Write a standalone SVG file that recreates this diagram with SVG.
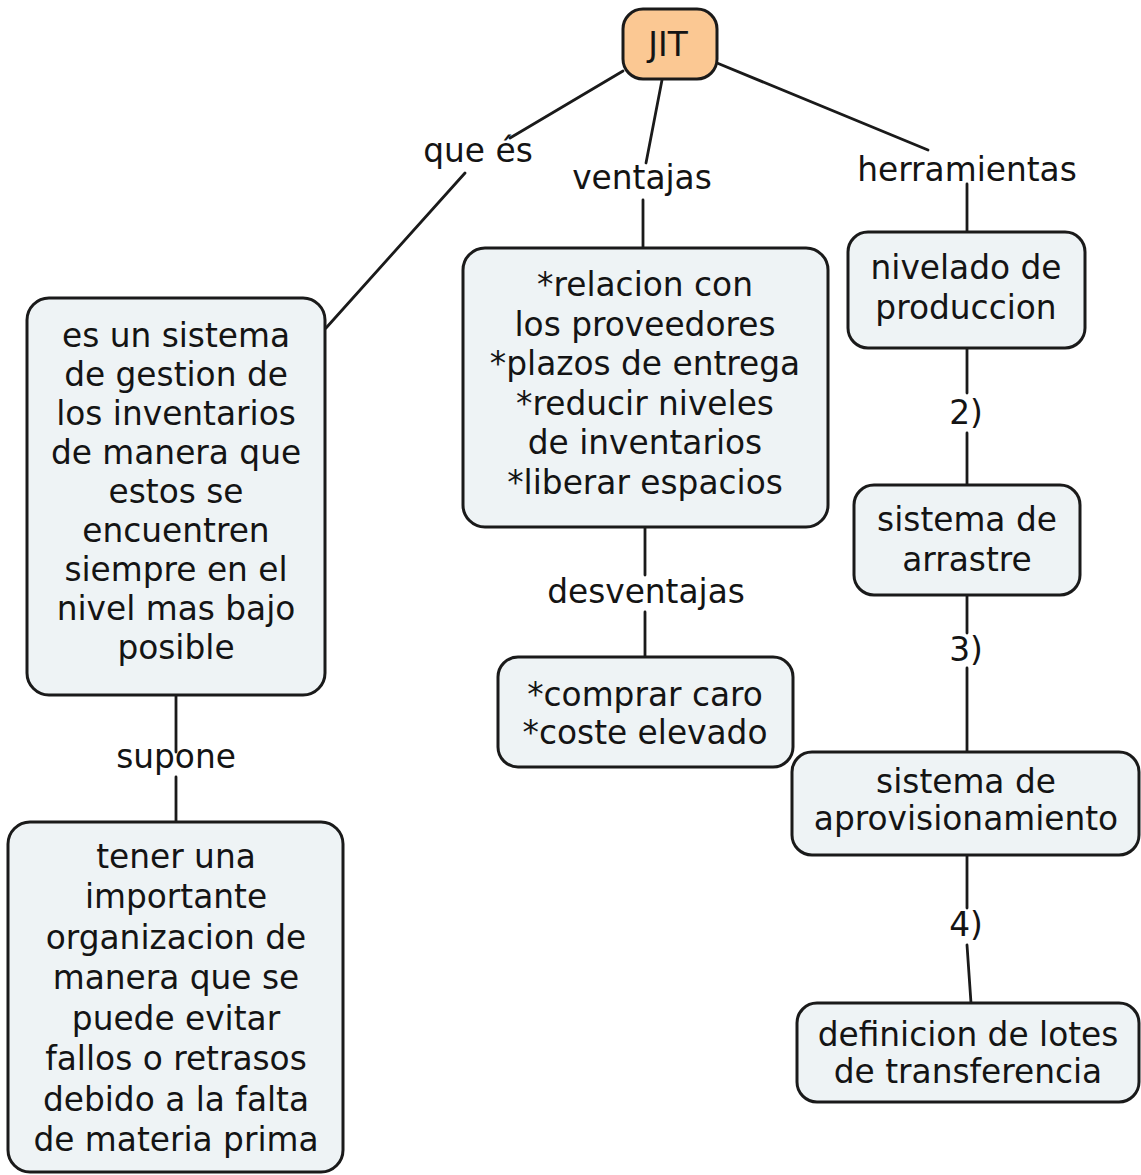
<svg xmlns="http://www.w3.org/2000/svg" width="1141" height="1175" viewBox="0 0 1141 1175">
<style>
.node rect{fill:#eef3f5;stroke:#1a1a1a;stroke-width:3}
#jit rect{fill:#fbc893}
text{font-family:"DejaVu Sans","Verdana",sans-serif;font-size:32.8px;fill:#141414;text-anchor:middle}
.conn line{stroke:#1a1a1a;stroke-width:2.8;stroke-linecap:round}
</style>
<rect x="0" y="0" width="1141" height="1175" fill="#ffffff"/>
<g id="connectors" class="conn">
<line x1="623" y1="71" x2="510" y2="138"/>
<line x1="465" y1="173" x2="326" y2="328"/>
<line x1="662" y1="80" x2="646" y2="163"/>
<line x1="643" y1="200" x2="643" y2="248"/>
<line x1="717" y1="63" x2="928" y2="150"/>
<line x1="967" y1="184" x2="967" y2="232"/>
<line x1="967" y1="348" x2="967" y2="393"/>
<line x1="967" y1="433" x2="967" y2="485"/>
<line x1="967" y1="595" x2="967" y2="633"/>
<line x1="967" y1="668" x2="967" y2="752"/>
<line x1="967" y1="855" x2="967" y2="908"/>
<line x1="967" y1="945" x2="971" y2="1003"/>
<line x1="176" y1="695" x2="176" y2="752"/>
<line x1="176" y1="777" x2="176" y2="822"/>
<line x1="645" y1="527" x2="645" y2="575"/>
<line x1="645" y1="612" x2="645" y2="657"/>
</g>
<g id="labels">
<text x="478" y="162">que és</text>
<text x="642" y="189">ventajas</text>
<text x="967" y="181">herramientas</text>
<text x="966" y="424">2)</text>
<text x="966" y="661">3)</text>
<text x="966" y="936">4)</text>
<text x="176" y="768">supone</text>
<text x="646" y="603">desventajas</text>
</g>
<g id="jit" class="node">
<rect x="623" y="9" width="94" height="70" rx="20"/>
<text x="668" y="56">JIT</text>
</g>
<g id="que-es" class="node">
<rect x="27" y="298" width="298" height="397" rx="22"/>
<text x="176" y="347">es un sistema</text>
<text x="176" y="386">de gestion de</text>
<text x="176" y="425">los inventarios</text>
<text x="176" y="464">de manera que</text>
<text x="176" y="503">estos se</text>
<text x="176" y="542">encuentren</text>
<text x="176" y="581">siempre en el</text>
<text x="176" y="620">nivel mas bajo</text>
<text x="176" y="659">posible</text>
</g>
<g id="ventajas" class="node">
<rect x="463" y="248" width="365" height="279" rx="22"/>
<text x="645" y="296">*relacion con</text>
<text x="645" y="336">los proveedores</text>
<text x="645" y="375">*plazos de entrega</text>
<text x="645" y="415">*reducir niveles</text>
<text x="645" y="454">de inventarios</text>
<text x="645" y="494">*liberar espacios</text>
</g>
<g id="desventajas" class="node">
<rect x="498" y="657" width="295" height="110" rx="20"/>
<text x="645" y="706">*comprar caro</text>
<text x="645" y="744">*coste elevado</text>
</g>
<g id="nivelado" class="node">
<rect x="848" y="232" width="237" height="116" rx="20"/>
<text x="966" y="279">nivelado de</text>
<text x="966" y="319">produccion</text>
</g>
<g id="arrastre" class="node">
<rect x="854" y="485" width="226" height="110" rx="20"/>
<text x="967" y="531">sistema de</text>
<text x="967" y="571">arrastre</text>
</g>
<g id="aprovisionamiento" class="node">
<rect x="792" y="752" width="347" height="103" rx="20"/>
<text x="966" y="793">sistema de</text>
<text x="966" y="830">aprovisionamiento</text>
</g>
<g id="lotes" class="node">
<rect x="797" y="1003" width="342" height="99" rx="20"/>
<text x="968" y="1046">definicion de lotes</text>
<text x="968" y="1083">de transferencia</text>
</g>
<g id="supone-node" class="node">
<rect x="8" y="822" width="335" height="350" rx="22"/>
<text x="176" y="868">tener una</text>
<text x="176" y="908">importante</text>
<text x="176" y="949">organizacion de</text>
<text x="176" y="989">manera que se</text>
<text x="176" y="1030">puede evitar</text>
<text x="176" y="1070">fallos o retrasos</text>
<text x="176" y="1111">debido a la falta</text>
<text x="176" y="1151">de materia prima</text>
</g>
</svg>
